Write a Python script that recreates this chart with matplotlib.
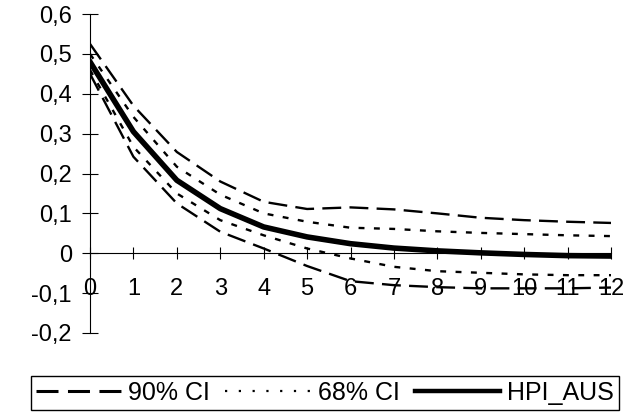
import numpy as np
import matplotlib.pyplot as plt
from matplotlib.lines import Line2D

plt.rcParams['font.family'] = ['Liberation Sans', 'DejaVu Sans']

# horizon (quarters) and impulse responses
horizon = np.arange(13)
hpi_aus = [0.48, 0.305, 0.183, 0.112, 0.066, 0.041, 0.024, 0.013, 0.006, 0.001, -0.003, -0.006, -0.007]
ci90_up = [0.525, 0.37, 0.254, 0.18, 0.129, 0.111, 0.115, 0.11, 0.10, 0.089, 0.083, 0.079, 0.076]
ci90_lo = [0.45, 0.242, 0.125, 0.054, 0.012, -0.032, -0.070, -0.080, -0.085, -0.088, -0.088, -0.088, -0.086]
ci68_up = [0.50, 0.342, 0.217, 0.147, 0.10, 0.079, 0.064, 0.061, 0.055, 0.051, 0.048, 0.045, 0.043]
ci68_lo = [0.46, 0.267, 0.15, 0.083, 0.045, 0.012, -0.013, -0.034, -0.045, -0.049, -0.053, -0.055, -0.055]

y_ticks = [-0.2, -0.1, 0, 0.1, 0.2, 0.3, 0.4, 0.5, 0.6]
y_labels = ['-0,2', '-0,1', '0', '0,1', '0,2', '0,3', '0,4', '0,5', '0,6']
names = ['90% CI', '68% CI', 'HPI_AUS']

fig = plt.figure(figsize=(6.44, 4.18), dpi=100)
ax = fig.add_axes([90 / 644, 85 / 418, 521 / 644, 319 / 418])

dash90 = (0, (8, 3.5))
dot68 = (0, (2.5, 4))
ax.plot(horizon, ci90_up, color='black', lw=1.7, linestyle=dash90)
ax.plot(horizon, ci90_lo, color='black', lw=1.7, linestyle=dash90)
ax.plot(horizon, ci68_up, color='black', lw=1.7, linestyle=dot68)
ax.plot(horizon, ci68_lo, color='black', lw=1.7, linestyle=dot68)
ax.plot(horizon, hpi_aus, color='black', lw=4)

ax.set_xlim(0, 12)
ax.set_ylim(-0.2, 0.6)
ax.spines['left'].set_position(('data', 0))
ax.spines['bottom'].set_position(('data', 0))
ax.spines['top'].set_visible(False)
ax.spines['right'].set_visible(False)
for s in ['left', 'bottom']:
    ax.spines[s].set_linewidth(0.8)

ax.set_xticks(horizon)
ax.set_yticks(y_ticks)
ax.set_yticklabels(y_labels)
ax.tick_params(axis='y', direction='inout', length=12, width=0.8, pad=7, labelsize=17)
ax.tick_params(axis='x', direction='inout', length=9, width=0.8, pad=13.5, labelsize=17)

# legend keys are drawn a bit bolder than the plotted lines, like in the original
handles = [Line2D([], [], color='black', lw=2.2, linestyle=(0, (7.2, 3.1))),
           Line2D([], [], color='black', lw=1.6, linestyle=(0, (1, 5.2))),
           Line2D([], [], color='black', lw=3.2)]
fig.legend(handles, names, ncol=3,
           loc='center', bbox_to_anchor=(325 / 644, 1 - 393 / 418), fontsize=18,
           frameon=True, fancybox=False, edgecolor='black', framealpha=1,
           handlelength=3.4, handletextpad=0.3, columnspacing=0.6,
           borderpad=0.2, borderaxespad=0)

fig.savefig('out.png', dpi=100)
